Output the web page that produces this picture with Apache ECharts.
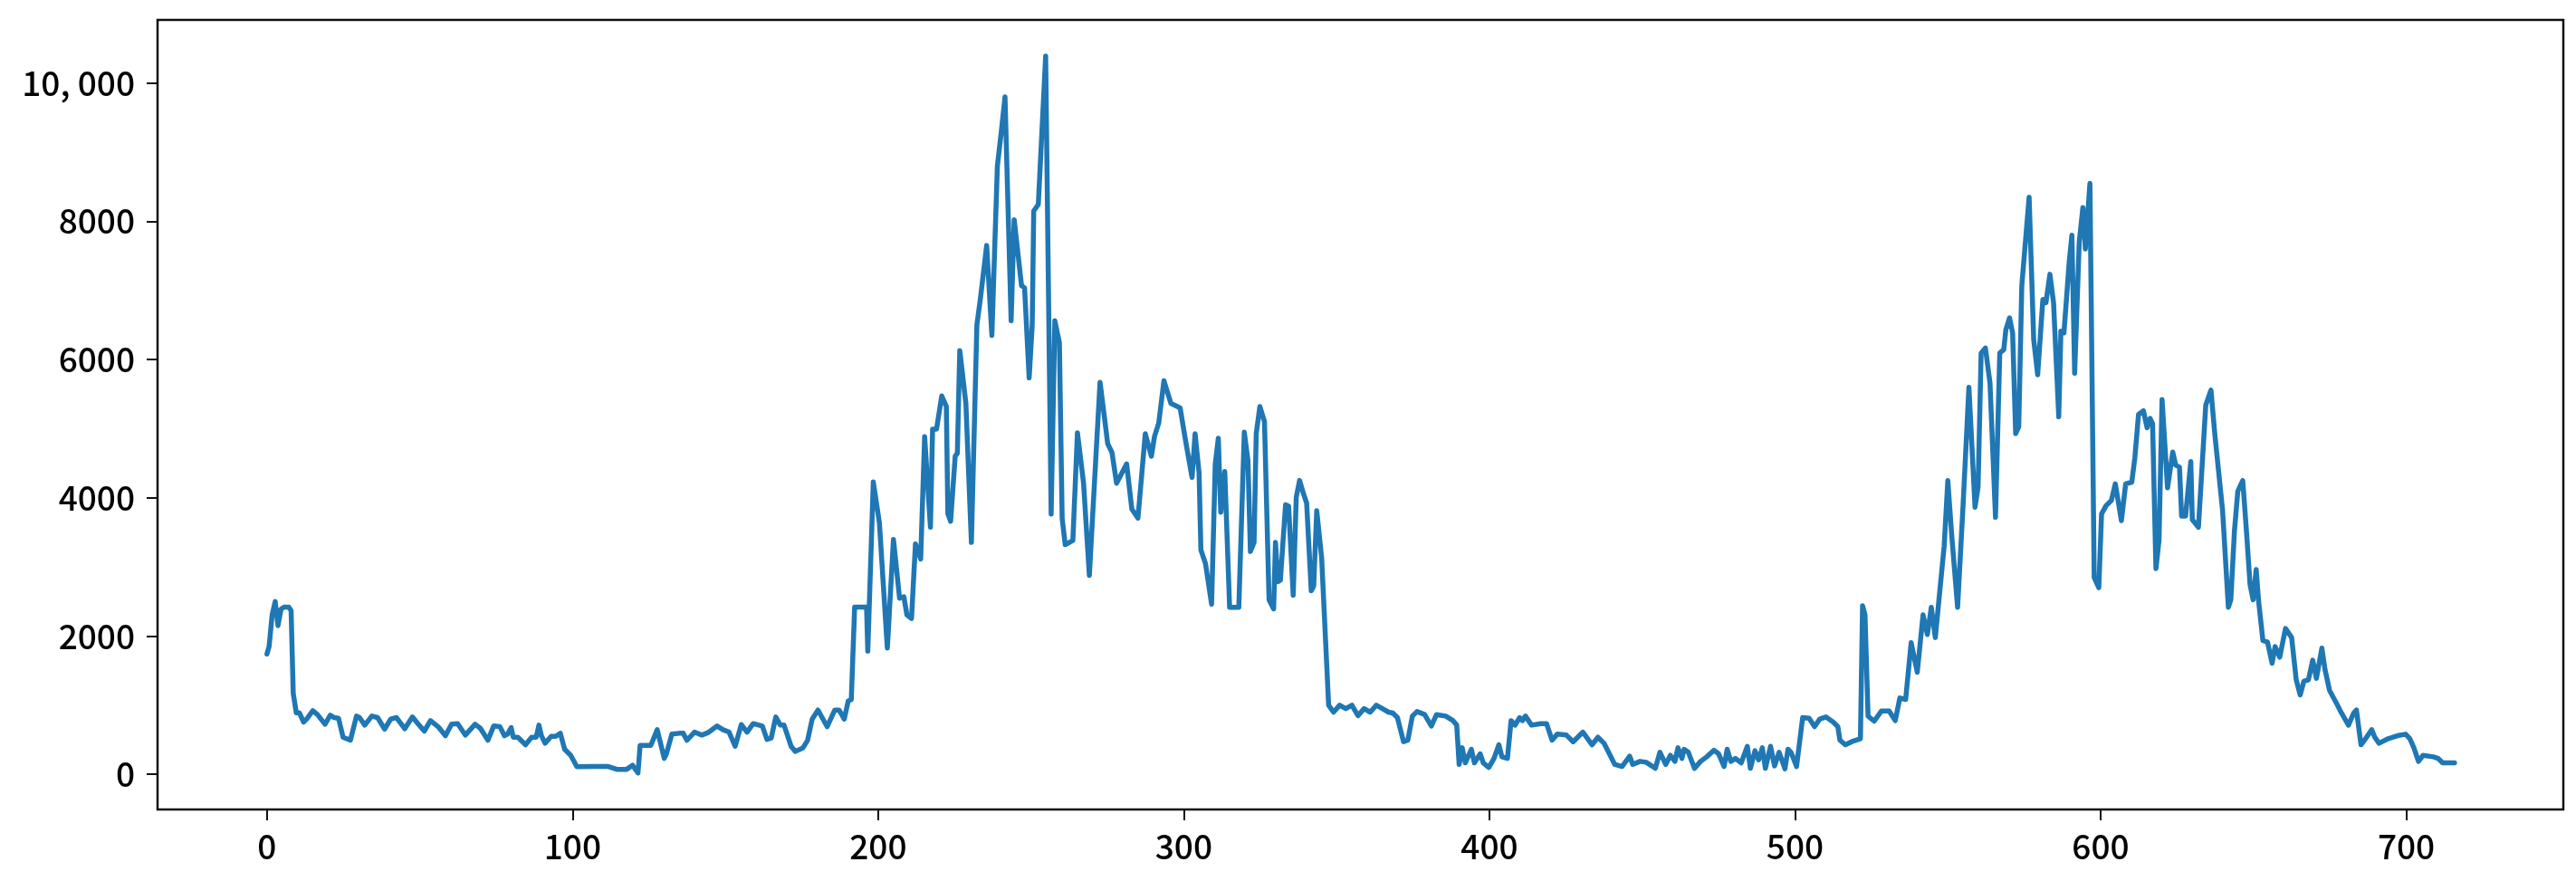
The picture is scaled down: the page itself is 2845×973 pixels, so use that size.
<!DOCTYPE html>
<html>
<head>
<meta charset="utf-8">
<script src="https://cdn.jsdelivr.net/npm/echarts@6/dist/echarts.min.js"></script>
<style>
html,body{margin:0;padding:0;background:#fff;}
#chart{width:2845px;height:973px;}
</style>
</head>
<body>
<div id="chart"></div>
<script>
// vertex positions (x index) and values
const xs = [
0,0.7,1.7,2.7,3.6,4.6,5.6,7.1,7.9,8.6,9.6,10.6,12.0,13.0,15.0,16.5,19.0,20.7,22.0,23.4,24.9,27.3,29.3,30.3,32.0,34.3,36.2,38.5,40.5,42.4,45.1,47.6,49.4,51.5,53.5,56.0,58.4,60.4,62.4,64.9,68.1,69.8,72.3,74.2,76.2,77.7,78.7,79.9,80.6,82.1,84.6,86.6,88.1,89.0,89.8,91.0,93.0,94.5,96.0,97.4,99.4,101.4,
106.8,111.7,114.7,117.6,119.6,121.4,122.1,125.6,127.7,130.0,130.7,132.5,134.9,136.2,137.4,139.9,142.3,144.3,147.3,149.2,151.2,153.2,155.2,157.1,159.1,162.1,163.6,165.0,166.5,168.0,169.2,171.5,172.9,175.4,176.9,178.4,180.3,183.3,185.8,187.2,188.9,190.2,191.2,
192.3,196.2,196.6,198.4,200.4,203.0,205.0,207.0,208.4,209.4,210.9,212.2,213.9,215.2,217.1,217.8,219.1,220.8,222.3,222.8,223.7,225.2,225.9,226.7,228.7,230.5,232.3,233.5,235.5,237.2,239.0,240.3,241.5,
243.5,244.5,246.9,247.9,249.4,250.4,250.9,252.4,254.8,256.6,257.8,259.3,260.2,261.2,263.7,265.2,267.2,269.1,270.6,272.6,275.1,276.5,278.0,
281.3,283.0,285.0,287.4,289.4,290.4,291.8,293.5,295.8,298.8,300.7,302.7,303.7,305.0,305.6,307.1,309.1,310.3,311.3,312.1,313.4,315.0,318.0,319.8,321.0,321.8,323.0,323.7,324.9,326.4,327.9,329.4,330.0,330.8,331.6,333.3,334.3,335.8,336.8,337.9,339.2,340.2,341.7,342.5,343.5,345.1,347.4,
349,351,353,355,357,359,361,363,365,367,
368.4,369.9,371.9,373.3,374.8,376.3,378.8,381.0,382.7,385.7,388.1,389.3,390.1,391.1,392.1,394.1,395.1,397.0,398.0,399.8,401.5,403.1,404.1,405.9,407.1,408.4,409.9,410.8,411.8,413.8,416.8,418.7,420.5,422.2,425.2,427.4,430.6,433.6,435.5,437.5,441.0,443.4,445.9,446.9,449.3,451.3,454.3,455.8,457.7,459.2,460.7,461.7,463.0,463.7,465.1,467.1,
469.1,471.1,473.5,475.0,476.8,477.8,479.0,480.5,482.4,484.4,485.4,486.9,488.1,489.3,490.3,492.0,493.3,494.8,496.7,497.7,498.7,500.5,502.5,504.6,506.4,508.1,510.1,512.5,514.0,514.7,516.5,518.5,521.4,522.1,522.9,523.9,525.9,528.3,530.8,532.8,534.3,536.2,538.0,540.0,541.9,543.3,544.6,545.9,548.8,550.0,551.2,553.2,555.0,556.9,
558.9,559.9,560.9,562.3,563.8,565.6,567.0,568.3,569.0,570.2,571.2,572.2,573.2,574.2,576.6,578.1,579.4,581.1,582.1,583.4,584.6,586.3,587.0,588.0,589.7,590.6,591.5,593.0,594.2,595.0,596.5,597.9,599.4,600.3,601.8,603.5,604.8,606.8,608.2,610.2,
611.2,612.4,614.0,615.2,616.2,617.0,618.1,619.1,620.1,621.9,623.6,624.6,625.8,626.5,627.8,629.5,630.0,632.0,634.4,636.1,637.4,639.9,
641.8,642.6,643.8,644.9,646.5,647.7,648.9,649.9,650.9,651.7,653.1,654.6,656.1,657.1,658.6,660.5,662.5,664.0,665.3,666.5,668.0,669.4,670.6,672.4,673.4,674.9,677.3,678.8,681.1,682.8,683.7,685.2,686.7,688.7,689.7,691.1,694.1,697.1,699.8,701.2,
702.5,704.0,705.5,708.9,710.4,711.9,715.8
];
const ys = [
1740,1850,2310,2500,2150,2390,2420,2420,2370,1170,890,890,756,800,920,865,725,856,821,812,537,494,843,821,712,843,821,655,800,821,660,830,734,625,778,690,559,725,734,568,725,668,494,699,690,559,581,677,537,537,428,537,537,712,559,450,550,550,594,363,275,110,
113,113,70,70,131,20,419,419,646,231,297,581,594,594,493,611,568,603,699,646,611,406,720,611,734,699,506,524,830,712,712,406,332,384,493,799,930,690,930,930,799,1061,1083,
2420,2420,1783,4229,3639,1826,3399,2547,2569,2307,2254,3334,3115,4885,3574,4994,4994,5474,5322,3770,3661,4601,4644,6130,5365,3355,6500,6900,7650,6350,8800,9300,9800,
6562,8023,7070,7038,5736,6498,8150,8245,10390,3766,6562,6244,3703,3322,3385,4942,4211,2877,4084,5672,4783,4656,4211,
4491,3836,3705,4928,4601,4885,5081,5693,5365,5300,4797,4295,4928,4360,3246,3050,2460,4491,4863,3792,4382,2416,2416,4950,4535,3224,3355,4928,5321,5103,2525,2394,3355,2787,2809,3901,3880,2591,4011,4251,4054,3923,2656,2722,3814,3137,1000,
900,1000,950,1000,850,950,900,1000,950,900,
887,821,472,494,843,908,865,699,865,843,777,712,144,384,166,362,166,297,166,100,231,428,253,231,777,712,821,777,843,712,734,734,494,581,568,472,611,428,537,450,144,113,262,144,188,175,87,319,144,275,188,384,231,362,319,87,
188,253,349,297,113,362,188,231,166,406,87,341,210,384,87,406,122,319,79,362,319,113,821,812,690,800,830,756,690,494,428,472,515,2438,2307,843,769,917,917,778,1105,1083,1905,1477,2307,2023,2416,1979,3300,4250,3500,2416,3900,5600,
3864,4155,6094,6167,5658,3718,6094,6143,6434,6603,6385,4930,5027,7064,8350,6288,5779,6870,6822,7234,6822,5173,6410,6385,7403,7800,5803,7700,8200,7600,8550,2846,2700,3767,3888,3961,4203,3670,4203,4227,
4580,5205,5259,5014,5150,5069,2977,3384,5422,4145,4661,4471,4444,3737,3737,4525,3683,3574,5340,5558,4906,3819,
2416,2525,3530,4098,4251,3530,2744,2525,2962,2503,1936,1914,1608,1848,1695,2110,1979,1368,1149,1346,1368,1652,1389,1826,1521,1215,1018,887,712,887,931,428,516,646,537,450,516,559,581,516,
384,188,275,253,231,166,166
];
const xTicks = [0,100,200,300,400,500,600,700];
const yTicks = [0,2000,4000,6000,8000,10000];

const points = xs.map((x, i) => [x, ys[i]]);
const chart = echarts.init(document.getElementById('chart'), null, {renderer: 'canvas'});
const font = '"Noto Sans CJK SC", "Noto Sans", sans-serif';
chart.setOption({
  animation: false,
  backgroundColor: '#ffffff',
  grid: {left: 174, right: 14, top: 22, bottom: 79, show: true, borderColor: '#111', borderWidth: 2.5, containLabel: false},
  xAxis: {
    type: 'value', min: -35.8, max: 751.4,
    axisLine: {show: false, onZero: false},
    splitLine: {show: false},
    axisTick: {show: true, customValues: xTicks, length: 12, lineStyle: {color: '#111', width: 2}},
    axisLabel: {customValues: xTicks, color: '#000', fontSize: 37, fontWeight: 500, fontFamily: font, margin: 22}
  },
  yAxis: {
    type: 'value', min: -508, max: 10913,
    axisLine: {show: false, onZero: false},
    splitLine: {show: false},
    axisTick: {show: true, customValues: yTicks, length: 12, lineStyle: {color: '#111', width: 2}},
    axisLabel: {customValues: yTicks, color: '#000', fontSize: 37, fontWeight: 500, fontFamily: font, margin: 25,
      formatter: v => v === 10000 ? '10, 000' : String(v)}
  },
  series: [{
    type: 'line', data: points, showSymbol: false, symbol: 'none',
    lineStyle: {color: '#1f77b4', width: 5.5, join: 'round', cap: 'round'},
    clip: true
  }]
});
</script>
</body>
</html>
